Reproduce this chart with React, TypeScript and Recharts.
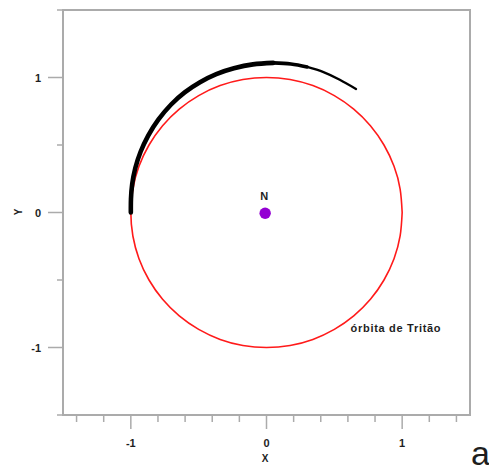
import { ComposedChart, Line, Scatter, XAxis, YAxis, ReferenceArea } from "recharts";

const AXIS = "#ababab";
const INK = "#1e1e1e";

// unit circle: Triton's orbit
const orbitPts: [number, number][] = [
  [1, 0], [0.985, 0.174], [0.94, 0.342], [0.866, 0.5], [0.766, 0.643], [0.643, 0.766],
  [0.5, 0.866], [0.342, 0.94], [0.174, 0.985], [0, 1], [-0.174, 0.985], [-0.342, 0.94],
  [-0.5, 0.866], [-0.643, 0.766], [-0.766, 0.643], [-0.866, 0.5], [-0.94, 0.342], [-0.985, 0.174],
  [-1, 0], [-0.985, -0.174], [-0.94, -0.342], [-0.866, -0.5], [-0.766, -0.643], [-0.643, -0.766],
  [-0.5, -0.866], [-0.342, -0.94], [-0.174, -0.985], [0, -1], [0.174, -0.985], [0.342, -0.94],
  [0.5, -0.866], [0.643, -0.766], [0.766, -0.643], [0.866, -0.5], [0.94, -0.342], [0.985, -0.174],
  [1, 0],
];

// black track, split where it gets thinner
const trackThick: [number, number][] = [
  [-1.0, 0.0], [-0.999, 0.1], [-0.99, 0.21], [-0.967, 0.33], [-0.928, 0.45], [-0.872, 0.57],
  [-0.796, 0.69], [-0.703, 0.8], [-0.603, 0.89], [-0.49, 0.965], [-0.37, 1.025], [-0.24, 1.068],
  [-0.1, 1.097], [0.05, 1.108],
];
const trackMid: [number, number][] = [[0.05, 1.108], [0.18, 1.1], [0.3, 1.078]];
const trackEnd: [number, number][] = [[0.3, 1.078], [0.42, 1.04], [0.54, 0.983], [0.66, 0.915]];

const neptune = [{ x: -0.01, y: -0.005 }];
const orbitLabelPos = [{ x: 0.62, y: -0.85 }];

const xTicks = [-1.4, -1.2, -1, -0.8, -0.6, -0.4, -0.2, 0, 0.2, 0.4, 0.6, 0.8, 1, 1.2, 1.4];
const yTicks = [-1.5, -1, -0.5, 0, 0.5, 1, 1.5];
const majorTicks = [-1, 0, 1];

const toXY = (pts: [number, number][]) => pts.map(([x, y]) => ({ x, y }));

function XTick({ x, y, payload }: any) {
  const major = majorTicks.includes(payload.value);
  return (
    <g>
      <line x1={x} x2={x} y1={y} y2={y + (major ? 14 : 7)} stroke={AXIS} strokeWidth={1.5} />
      {major && (
        <text x={x} y={y + 32} textAnchor="middle" fontSize={11} fontWeight="bold" fill={INK}>
          {payload.value}
        </text>
      )}
    </g>
  );
}

function YTick({ x, y, payload }: any) {
  const major = majorTicks.includes(payload.value);
  return (
    <g>
      <line x1={x - (major ? 15 : 6)} x2={x} y1={y} y2={y} stroke={AXIS} strokeWidth={1.5} />
      {major && (
        <text x={x - 22} y={y + 4} textAnchor="end" fontSize={11} fontWeight="bold" fill={INK}>
          {payload.value}
        </text>
      )}
    </g>
  );
}

export default function App() {
  return (
    <div style={{ position: "absolute", left: 0, top: 0, width: 489, height: 471, background: "#fff", fontFamily: "'Liberation Sans', Arial, sans-serif" }}>
      <ComposedChart width={489} height={471} margin={{ top: 10, right: 19, left: 0, bottom: 0 }}>
        <XAxis type="number" dataKey="x" domain={[-1.5, 1.5]} ticks={xTicks} interval={0} allowDuplicatedCategory={false}
          axisLine={false} tickLine={false} tickSize={0} tickMargin={0} height={56} tick={<XTick />} />
        <YAxis type="number" dataKey="y" domain={[-1.5, 1.5]} ticks={yTicks} interval={0}
          axisLine={false} tickLine={false} tickSize={0} tickMargin={0} width={63} tick={<YTick />} />
        <ReferenceArea x1={-1.5} x2={1.5} y1={-1.5} y2={1.5} fill="none" fillOpacity={0}
          stroke={AXIS} strokeWidth={2} ifOverflow="visible" />
        <Line data={toXY(orbitPts)} dataKey="y" type="natural" stroke="#ff1a1a" strokeWidth={1.6}
          dot={false} activeDot={false} isAnimationActive={false} legendType="none" />
        <Line data={toXY(trackThick)} dataKey="y" type="natural" stroke="#000" strokeWidth={4.6} strokeLinecap="round"
          dot={false} activeDot={false} isAnimationActive={false} legendType="none" />
        <Line data={toXY(trackMid)} dataKey="y" type="natural" stroke="#000" strokeWidth={3.6} strokeLinecap="round"
          dot={false} activeDot={false} isAnimationActive={false} legendType="none" />
        <Line data={toXY(trackEnd)} dataKey="y" type="natural" stroke="#000" strokeWidth={2.3} strokeLinecap="round"
          dot={false} activeDot={false} isAnimationActive={false} legendType="none" />
        <Scatter data={neptune} dataKey="y" isAnimationActive={false} legendType="none"
          shape={(p: any) => (
            <g>
              <circle cx={p.cx} cy={p.cy} r={5.7} fill="#9400d3" />
              <text x={p.cx - 1} y={p.cy - 13} textAnchor="middle" fontSize={11} fontWeight="bold" fill={INK}>N</text>
            </g>
          )} />
        <Scatter data={orbitLabelPos} dataKey="y" isAnimationActive={false} legendType="none"
          shape={(p: any) => (
            <text x={p.cx} y={p.cy + 4.5} textAnchor="start" fontSize={11} letterSpacing={0.7} fontWeight="bold" fill={INK}>
              órbita de Tritão
            </text>
          )} />
      </ComposedChart>
      <svg width={489} height={471} style={{ position: "absolute", left: 0, top: 0, pointerEvents: "none" }}>
        <text x={18} y={212} transform="rotate(-90 18 212)" textAnchor="middle" dominantBaseline="central"
          fontSize={10} fontWeight="bold" fill={INK}>Y</text>
        <text x={265} y={462} textAnchor="middle" fontSize={10} fontWeight="bold" fill={INK}>X</text>
        <text x={471} y={465} fontSize={34} fill={INK}>a</text>
      </svg>
    </div>
  );
}
